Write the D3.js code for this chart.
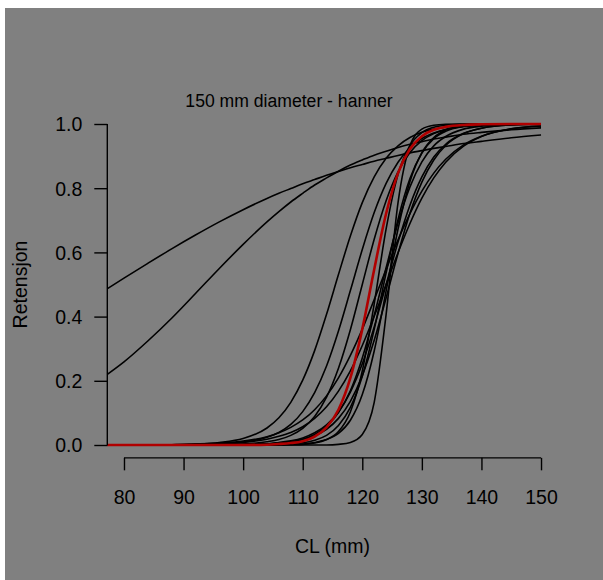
<!DOCTYPE html>
<html>
<head>
<meta charset="utf-8">
<script src="https://cdn.jsdelivr.net/npm/d3@7"></script>
<style>
  html, body { margin: 0; padding: 0; background: #ffffff; }
  svg { display: block; }
  text { font-family: "Liberation Sans", Arial, Helvetica, sans-serif; fill: #000; }
</style>
</head>
<body>
<svg id="chart" width="603" height="580"></svg>
<script>
// ---- data ----
const title = "150 mm diameter - hanner";
const xLabel = "CL (mm)";
const yLabel = "Retensjon";
const xTicks = [80, 90, 100, 110, 120, 130, 140, 150];
const yTicks = [0.0, 0.2, 0.4, 0.6, 0.8, 1.0];

// carapace length grid (mm) at which the retention curves were read
const cl = [77.2, 80, 84, 88, 92, 96, 100, 104, 106, 108, 110, 112, 114, 116, 118, 120, 122, 124, 126, 128, 130, 132, 134, 137, 140, 145, 150];

// individual retention curves (black)
const curveA  = [0.487,0.520,0.566,0.611,0.654,0.695,0.733,0.768,0.784,0.799,0.814,0.827,0.840,0.852,0.864,0.874,0.884,0.893,0.902,0.910,0.917,0.924,0.930,0.939,0.946,0.957,0.966];
const curveB  = [0.220,0.259,0.324,0.395,0.472,0.550,0.625,0.695,0.727,0.757,0.784,0.810,0.832,0.853,0.872,0.888,0.903,0.915,0.927,0.937,0.945,0.953,0.959,0.968,0.974,0.982,0.988];
const curve1  = [0,0,0,0.001,0.003,0.008,0.020,0.053,0.085,0.133,0.202,0.294,0.407,0.531,0.651,0.755,0.835,0.893,0.932,0.958,0.974,0.984,0.990,0.995,0.998,0.999,1.000];
const curve2  = [0,0,0,0,0.001,0.003,0.009,0.024,0.039,0.064,0.104,0.163,0.246,0.355,0.481,0.609,0.724,0.815,0.881,0.926,0.955,0.972,0.983,0.992,0.996,0.999,1.000];
const curve3  = [0,0,0,0,0,0.001,0.003,0.010,0.017,0.030,0.052,0.089,0.149,0.239,0.359,0.500,0.641,0.761,0.851,0.911,0.948,0.970,0.983,0.993,0.997,0.999,1.000];
const curve5  = [0,0,0,0,0,0,0,0,0,0.001,0.002,0.006,0.017,0.042,0.103,0.231,0.440,0.673,0.843,0.933,0.973,0.990,0.996,0.999,1,1,1];
const curve6  = [0,0,0,0,0,0,0.001,0.003,0.006,0.010,0.018,0.033,0.058,0.101,0.169,0.271,0.404,0.552,0.692,0.804,0.882,0.932,0.961,0.984,0.993,0.999,1.000];
const curve7  = [0,0,0,0,0,0,0,0.001,0.002,0.004,0.007,0.015,0.030,0.061,0.117,0.214,0.360,0.536,0.703,0.830,0.909,0.954,0.977,0.992,0.997,1,1];
const curve8  = [0,0,0,0,0,0.001,0.002,0.004,0.008,0.013,0.022,0.038,0.063,0.103,0.165,0.253,0.368,0.500,0.632,0.747,0.835,0.897,0.937,0.971,0.987,0.997,0.999];
const curve9  = [0,0,0,0,0,0,0,0,0,0,0,0,0,0.002,0.008,0.033,0.133,0.407,0.755,0.932,0.984,0.996,0.999,1,1,1,1];
const curve10 = [0,0,0,0,0,0,0,0,0.001,0.002,0.003,0.008,0.017,0.036,0.077,0.157,0.293,0.480,0.673,0.821,0.911,0.958,0.981,0.994,0.998,1,1];
const curve11 = [0,0,0,0,0,0,0.001,0.003,0.005,0.009,0.017,0.029,0.049,0.083,0.136,0.216,0.326,0.458,0.597,0.722,0.819,0.888,0.933,0.970,0.987,0.997,0.999];
const curve12 = [0,0,0,0.001,0.002,0.004,0.008,0.018,0.027,0.039,0.057,0.083,0.119,0.168,0.231,0.310,0.401,0.500,0.599,0.690,0.769,0.832,0.881,0.931,0.961,0.985,0.994];
const curve13 = [0,0,0.001,0.001,0.003,0.006,0.012,0.026,0.038,0.055,0.078,0.110,0.153,0.209,0.279,0.361,0.453,0.547,0.639,0.721,0.791,0.847,0.890,0.935,0.962,0.985,0.994];
// combined / mean curve (red)
const curveMean = [0,0,0,0,0,0,0,0.001,0.003,0.006,0.012,0.026,0.055,0.110,0.209,0.361,0.547,0.721,0.847,0.922,0.962,0.982,0.991,0.997,0.999,1,1];

const blackCurves = [curveA, curveB, curve1, curve2, curve3, curve5, curve6, curve7, curve8, curve9, curve10, curve11, curve12, curve13];

// ---- drawing ----
const svg = d3.select("#chart");
const W = 603, H = 580;

svg.append("rect")
  .attr("x", 5).attr("y", 8)
  .attr("width", W - 5).attr("height", H - 8)
  .attr("fill", "#808080");

const x = d3.scaleLinear().domain([77.2, 152.8]).range([107.3, 557.7]);
const y = d3.scaleLinear().domain([-0.04, 1.04]).range([457.84, 111.16]);

const line = d3.line()
  .x((d, i) => x(cl[i]))
  .y(d => y(d))
  .curve(d3.curveMonotoneX);

const g = svg.append("g");
g.selectAll("path.black")
  .data(blackCurves)
  .join("path")
  .attr("class", "black")
  .attr("d", line)
  .attr("fill", "none")
  .attr("stroke", "#000")
  .attr("stroke-width", 1.6);

g.append("path")
  .attr("d", line(curveMean))
  .attr("fill", "none")
  .attr("stroke", "#b00000")
  .attr("stroke-width", 2.6);

// axes
const fs = 19.5;
const yAxis = d3.axisLeft(y).tickValues(yTicks).tickFormat(d3.format(".1f")).tickSize(13).tickSizeOuter(0);
const yg = svg.append("g").attr("transform", `translate(${x(77.2)},0)`).call(yAxis);
yg.select(".domain").remove();
yg.append("line").attr("x1", 0).attr("x2", 0).attr("y1", y(0)).attr("y2", y(1)).attr("stroke", "#000").attr("stroke-width", 1.4);
yg.selectAll(".tick line").attr("stroke", "#000").attr("stroke-width", 1.4);
yg.selectAll(".tick text").attr("x", -25).attr("dy", "0.35em").style("font-size", fs + "px").attr("fill", "#000");

const xAxis = d3.axisBottom(x).tickValues(xTicks).tickFormat(d3.format("d")).tickSize(12.5).tickSizeOuter(0);
const xg = svg.append("g").attr("transform", `translate(0,${y(-0.04)})`).call(xAxis);
xg.select(".domain").remove();
xg.append("line").attr("x1", x(80)).attr("x2", x(150)).attr("y1", 0).attr("y2", 0).attr("stroke", "#000").attr("stroke-width", 1.4);
xg.selectAll(".tick line").attr("stroke", "#000").attr("stroke-width", 1.4);
xg.selectAll(".tick text").attr("y", 46).attr("dy", 0).style("font-size", fs + "px").attr("fill", "#000");

// titles
svg.append("text")
  .attr("x", 289).attr("y", 107)
  .attr("text-anchor", "middle")
  .style("font-size", "17.6px")
  .text(title);

svg.append("text")
  .attr("x", x(115)).attr("y", 553)
  .attr("text-anchor", "middle")
  .style("font-size", fs + "px")
  .text(xLabel);

svg.append("text")
  .attr("transform", `translate(27,${y(0.5)}) rotate(-90)`)
  .attr("text-anchor", "middle")
  .style("font-size", fs + "px")
  .text(yLabel);
</script>
</body>
</html>
